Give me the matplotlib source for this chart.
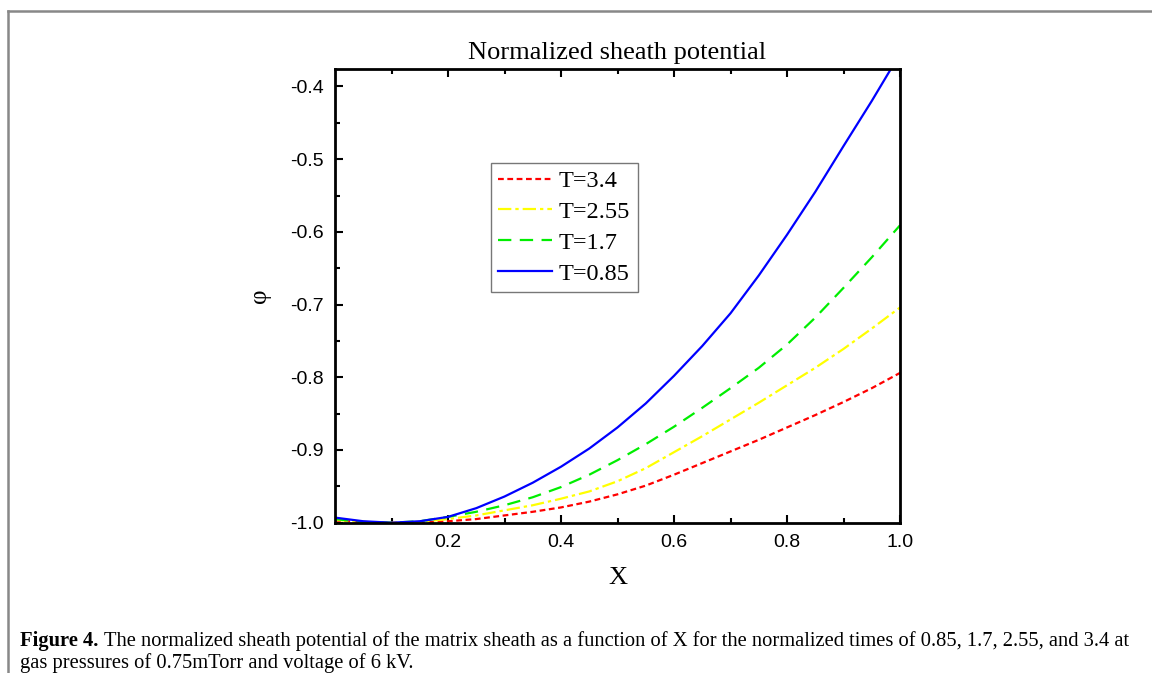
import matplotlib
matplotlib.use("Agg")
import matplotlib.pyplot as plt
from matplotlib.lines import Line2D
from matplotlib.ticker import MultipleLocator, FormatStrFormatter

# Dane
x = [0.0, 0.05, 0.1, 0.15, 0.2, 0.25, 0.3, 0.35, 0.4, 0.45, 0.5,
     0.55, 0.6, 0.65, 0.7, 0.75, 0.8, 0.85, 0.9, 0.95, 1.0]

phi_t340 = [-0.997, -0.999, -1.0, -1.0, -0.998, -0.995, -0.990, -0.985, -0.979, -0.971, -0.961,
            -0.949, -0.934, -0.918, -0.902, -0.886, -0.869, -0.852, -0.834, -0.815, -0.794]
phi_t255 = [-0.996, -0.999, -1.0, -0.999, -0.995, -0.990, -0.983, -0.976, -0.967, -0.957, -0.943,
            -0.925, -0.903, -0.881, -0.858, -0.835, -0.811, -0.787, -0.761, -0.733, -0.704]
phi_t170 = [-0.995, -0.999, -1.0, -0.998, -0.992, -0.985, -0.976, -0.965, -0.951, -0.934, -0.914,
            -0.892, -0.868, -0.842, -0.815, -0.787, -0.755, -0.718, -0.677, -0.635, -0.591]
phi_t085 = [-0.993, -0.998, -1.0, -0.998, -0.992, -0.980, -0.964, -0.945, -0.923, -0.898, -0.869,
            -0.836, -0.798, -0.757, -0.712, -0.660, -0.604, -0.545, -0.482, -0.420, -0.355]

etykiety = ['T=3.4', 'T=2.55', 'T=1.7', 'T=0.85']

serif = ['Liberation Serif', 'DejaVu Serif']
sans = ['Liberation Sans', 'DejaVu Sans']

fig = plt.figure(figsize=(11.52, 6.73), dpi=100)

# Szara ramka strony (góra i lewa krawędź)
fig.add_artist(Line2D([8 / 1152, 1.0], [1 - 11 / 673, 1 - 11 / 673], color='#888888', lw=1.8,
                      transform=fig.transFigure))
fig.add_artist(Line2D([8 / 1152, 8 / 1152], [0.0, 1 - 11 / 673], color='#888888', lw=1.8,
                      transform=fig.transFigure))

ax = fig.add_axes([335 / 1152, 1 - 522.7 / 673, 565 / 1152, 453.7 / 673])

ax.plot(x, phi_t340, color='#ff0000', lw=1.6, dashes=(2.6, 1.6), label=etykiety[0])
ax.plot(x, phi_t255, color='#ffff00', lw=1.6, dashes=(6, 1.8, 1.5, 1.8), label=etykiety[1])
ax.plot(x, phi_t170, color='#00ee00', lw=1.6, dashes=(6, 3.8), label=etykiety[2])
ax.plot(x, phi_t085, color='#0000ff', lw=1.6, label=etykiety[3])

ax.set_xlim(0, 1.0)
ax.set_ylim(-1.0, -0.376)

ax.yaxis.set_major_locator(MultipleLocator(0.1))
ax.yaxis.set_minor_locator(MultipleLocator(0.05))
ax.yaxis.set_major_formatter(FormatStrFormatter('%.1f'))
# bez etykiety 0.0 na osi X
ax.set_xticks([0.2, 0.4, 0.6, 0.8, 1.0])
ax.set_xticks([0.1, 0.3, 0.5, 0.7, 0.9], minor=True)
ax.set_xticklabels(['0.2', '0.4', '0.6', '0.8', '1.0'])

ax.tick_params(which='both', direction='in', top=True, right=False, width=1.5)
ax.tick_params(which='major', length=6)
ax.tick_params(which='minor', length=3.5)
ax.tick_params(axis='both', labelsize=14, pad=8)
for lab in ax.get_xticklabels() + ax.get_yticklabels():
    lab.set_family(sans)

for s in ax.spines.values():
    s.set_linewidth(2)

ax.set_title('Normalized sheath potential', family=serif, fontsize=19, pad=7)
ax.set_xlabel('X', family=serif, fontsize=19, labelpad=12)
ax.set_ylabel('φ', family=serif, fontsize=18, labelpad=14)

leg = ax.legend(loc='upper left', bbox_to_anchor=(0.276, 0.793), prop={'family': serif, 'size': 17.5},
                handlelength=2.2, handletextpad=0.3, borderpad=0.3, labelspacing=0.36,
                fancybox=False, framealpha=1, borderaxespad=0)
leg.get_frame().set_edgecolor('#777777')
leg.get_frame().set_linewidth(1.0)

# Podpis rysunku
fs = 14.8
y1 = 1 - 641 / 673
t_bold = fig.text(20 / 1152, y1, 'Figure 4. ', family=serif, fontsize=fs, fontweight='bold',
                  va='center', ha='left')
fig.canvas.draw()
bb = t_bold.get_window_extent(renderer=fig.canvas.get_renderer())
fig.text(bb.x1 / fig.bbox.width, y1,
         'The normalized sheath potential of the matrix sheath as a function of X for the normalized '
         'times of 0.85, 1.7, 2.55, and 3.4 at',
         family=serif, fontsize=fs, va='center', ha='left')
fig.text(20 / 1152, 1 - 663 / 673, 'gas pressures of 0.75mTorr and voltage of 6 kV.',
         family=serif, fontsize=fs, va='center', ha='left')

fig.savefig('out.png', dpi=100)
